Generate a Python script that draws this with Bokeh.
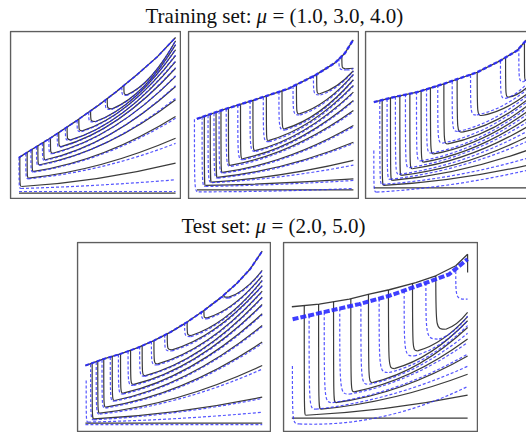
from bokeh.plotting import figure
from bokeh.layouts import column, row, Spacer
from bokeh.models import Range1d, ColumnDataSource
from bokeh.core.properties import value
from bokeh.embed import file_html
from bokeh.resources import INLINE

# ---------------- titles ----------------
TITLE_TRAIN = ["Training set:", "\u03bc", "= (1.0, 3.0, 4.0)"]
TITLE_TEST = ["Test set:", "\u03bc", "= (2.0, 5.0)"]

# ---------------- panel 1 : mu = 1.0 (training) ----------------
P1_ENV_X = [0.049, 0.118, 0.235, 0.392, 0.510, 0.627, 0.745, 0.863, 0.971]
P1_ENV_Y = [0.245, 0.289, 0.362, 0.468, 0.553, 0.643, 0.742, 0.848, 0.964]
P1_FLAT = [0.032]
P1_BFLAT = [0.042]
P1_SX = [0.055, 0.098, 0.127, 0.161, 0.196, 0.235, 0.284, 0.333, 0.402, 0.471, 0.569, 0.667]
P1_ST = [0.249, 0.276, 0.295, 0.316, 0.337, 0.362, 0.395, 0.428, 0.475, 0.525, 0.598, 0.677]
P1_KX = [0.065, 0.108, 0.137, 0.173, 0.206, 0.249, 0.298, 0.353, 0.422, 0.500, 0.598, 0.686]
P1_KY = [0.072, 0.122, 0.162, 0.202, 0.232, 0.271, 0.311, 0.351, 0.405, 0.461, 0.537, 0.621]
P1_MY = [0.121, 0.206, 0.277, 0.338, 0.386, 0.432, 0.475, 0.515, 0.563, 0.611, 0.671, 0.734]
P1_RY = [0.212, 0.361, 0.491, 0.591, 0.671, 0.731, 0.780, 0.820, 0.856, 0.890, 0.920, 0.944]
P1_B_SX = [0.050, 0.090, 0.120, 0.153, 0.188, 0.226, 0.275, 0.323, 0.392, 0.460, 0.558, 0.655]
P1_B_ST = [0.247, 0.271, 0.290, 0.311, 0.332, 0.356, 0.389, 0.421, 0.468, 0.517, 0.590, 0.668]
P1_B_KX = [0.062, 0.106, 0.135, 0.170, 0.204, 0.246, 0.296, 0.350, 0.418, 0.497, 0.595, 0.683]
P1_B_KY = [0.060, 0.118, 0.158, 0.198, 0.228, 0.268, 0.308, 0.348, 0.400, 0.458, 0.533, 0.617]
P1_B_MY = [0.080, 0.192, 0.271, 0.339, 0.385, 0.431, 0.475, 0.515, 0.561, 0.610, 0.669, 0.732]
P1_B_RY = [0.112, 0.330, 0.480, 0.600, 0.676, 0.735, 0.784, 0.825, 0.860, 0.893, 0.922, 0.946]

# ---------------- panel 2 : mu = 3.0 (training) ----------------
P2_ENV_X = [0.049, 0.191, 0.389, 0.586, 0.744, 0.862, 0.920, 0.969]
P2_ENV_Y = [0.477, 0.527, 0.591, 0.657, 0.737, 0.812, 0.870, 0.950]
P2_FLAT = [0.052]
P2_SX = [0.093, 0.128, 0.162, 0.191, 0.235, 0.306, 0.379, 0.458, 0.550, 0.635, 0.754, 0.902]
P2_ST = [0.492, 0.502, 0.515, 0.527, 0.541, 0.564, 0.588, 0.614, 0.645, 0.682, 0.743, 0.852]
P2_KX = [0.100, 0.136, 0.170, 0.200, 0.245, 0.318, 0.392, 0.470, 0.565, 0.652, 0.772, 0.925]
P2_KY = [0.078, 0.098, 0.126, 0.156, 0.198, 0.238, 0.287, 0.347, 0.417, 0.507, 0.627, 0.777]
P2_MY = [0.092, 0.144, 0.200, 0.254, 0.313, 0.360, 0.410, 0.463, 0.520, 0.590, 0.675, 0.778]
P2_RY = [0.117, 0.228, 0.337, 0.437, 0.527, 0.587, 0.637, 0.677, 0.711, 0.743, 0.765, 0.780]
P2_B_SX = [0.035, 0.080, 0.115, 0.150, 0.180, 0.222, 0.290, 0.362, 0.440, 0.532, 0.615, 0.735, 0.885]
P2_B_ST = [0.475, 0.490, 0.500, 0.512, 0.523, 0.538, 0.560, 0.585, 0.607, 0.640, 0.675, 0.738, 0.840]
P2_B_KX = [0.060, 0.100, 0.138, 0.172, 0.205, 0.250, 0.322, 0.396, 0.474, 0.568, 0.656, 0.776, 0.930]
P2_B_KY = [0.040, 0.072, 0.095, 0.122, 0.152, 0.192, 0.232, 0.282, 0.340, 0.410, 0.500, 0.620, 0.770]
P2_B_MY = [0.045, 0.085, 0.132, 0.195, 0.249, 0.307, 0.355, 0.405, 0.457, 0.514, 0.584, 0.670, 0.771]
P2_B_RY = [0.060, 0.108, 0.200, 0.330, 0.430, 0.520, 0.582, 0.632, 0.673, 0.708, 0.740, 0.762, 0.778]

# ---------------- panel 3 : mu = 4.0 (training) ----------------
P3_ENV_X = [0.049, 0.167, 0.304, 0.461, 0.657, 0.794, 0.892, 0.947]
P3_ENV_Y = [0.577, 0.607, 0.637, 0.687, 0.756, 0.826, 0.886, 0.950]
P3_FLAT = [0.064]
P3_SX = [0.098, 0.147, 0.202, 0.261, 0.327, 0.382, 0.461, 0.539, 0.657, 0.824, 0.935]
P3_ST = [0.589, 0.603, 0.615, 0.627, 0.643, 0.663, 0.687, 0.711, 0.756, 0.844, 0.936]
P3_KX = [0.108, 0.157, 0.210, 0.275, 0.343, 0.402, 0.484, 0.569, 0.686, 0.843, 0.943]
P3_KY = [0.078, 0.108, 0.138, 0.178, 0.218, 0.267, 0.327, 0.397, 0.497, 0.607, 0.707]
P3_MY = [0.120, 0.171, 0.218, 0.265, 0.309, 0.355, 0.405, 0.464, 0.541, 0.626, 0.707]
P3_RY = [0.198, 0.287, 0.367, 0.427, 0.477, 0.517, 0.551, 0.587, 0.623, 0.662, 0.707]
P3_B_SX = [0.049, 0.084, 0.127, 0.176, 0.235, 0.300, 0.359, 0.425, 0.510, 0.618, 0.794, 0.902]
P3_B_ST = [0.287, 0.585, 0.597, 0.610, 0.625, 0.640, 0.660, 0.680, 0.703, 0.740, 0.826, 0.900]
P3_B_KX = [0.065, 0.100, 0.145, 0.198, 0.258, 0.325, 0.388, 0.455, 0.545, 0.655, 0.825, 0.930]
P3_B_KY = [0.038, 0.085, 0.115, 0.145, 0.185, 0.225, 0.272, 0.332, 0.402, 0.500, 0.600, 0.700]
P3_B_MY = [0.084, 0.139, 0.194, 0.234, 0.280, 0.321, 0.365, 0.417, 0.476, 0.553, 0.630, 0.707]
P3_B_RY = [0.168, 0.240, 0.340, 0.400, 0.455, 0.500, 0.538, 0.575, 0.612, 0.650, 0.685, 0.720]

# ---------------- panel 4 : mu = 2.0 (test) ----------------
P4_ENV_X = [0.041, 0.136, 0.223, 0.309, 0.396, 0.482, 0.568, 0.655, 0.741, 0.827, 0.895, 0.957]
P4_ENV_Y = [0.349, 0.384, 0.411, 0.442, 0.481, 0.526, 0.579, 0.640, 0.707, 0.785, 0.860, 0.954]
P4_FLAT = [0.044]
P4_BFLAT = [0.036]
P4_SX = [0.076, 0.105, 0.136, 0.180, 0.223, 0.275, 0.335, 0.396, 0.465, 0.568, 0.655, 0.758]
P4_ST = [0.362, 0.372, 0.384, 0.397, 0.411, 0.429, 0.455, 0.481, 0.517, 0.579, 0.640, 0.721]
P4_KX = [0.085, 0.116, 0.147, 0.192, 0.237, 0.292, 0.352, 0.416, 0.490, 0.589, 0.672, 0.784]
P4_KY = [0.067, 0.097, 0.129, 0.164, 0.203, 0.249, 0.296, 0.358, 0.432, 0.508, 0.601, 0.711]
P4_MY = [0.107, 0.185, 0.249, 0.303, 0.350, 0.397, 0.441, 0.493, 0.551, 0.610, 0.679, 0.760]
P4_RY = [0.182, 0.349, 0.473, 0.561, 0.623, 0.672, 0.711, 0.743, 0.772, 0.799, 0.825, 0.852]
P4_B_SX = [0.045, 0.068, 0.097, 0.127, 0.170, 0.212, 0.262, 0.322, 0.383, 0.452, 0.555, 0.642, 0.748]
P4_B_ST = [0.270, 0.357, 0.368, 0.380, 0.395, 0.408, 0.425, 0.451, 0.478, 0.513, 0.575, 0.636, 0.715]
P4_B_KX = [0.055, 0.085, 0.115, 0.145, 0.190, 0.236, 0.290, 0.350, 0.414, 0.488, 0.588, 0.672, 0.784]
P4_B_KY = [0.050, 0.062, 0.092, 0.124, 0.160, 0.198, 0.244, 0.292, 0.352, 0.426, 0.502, 0.596, 0.706]
P4_B_MY = [0.068, 0.102, 0.175, 0.243, 0.298, 0.345, 0.392, 0.437, 0.488, 0.546, 0.605, 0.675, 0.756]
P4_B_RY = [0.102, 0.175, 0.330, 0.465, 0.555, 0.618, 0.668, 0.707, 0.740, 0.770, 0.797, 0.823, 0.850]

# ---------------- panel 5 : mu = 5.0 (test) ----------------
P5_ENV_X = [0.043, 0.184, 0.339, 0.442, 0.545, 0.682, 0.785, 0.888, 0.949]
P5_ENV_Y = [0.660, 0.674, 0.700, 0.727, 0.750, 0.788, 0.824, 0.877, 0.938]
P5_BENV_X = [0.047, 0.201, 0.390, 0.545, 0.717, 0.854, 0.949]
P5_BENV_Y = [0.594, 0.630, 0.674, 0.718, 0.780, 0.832, 0.912]
P5_FLAT = [0.071]
P5_SX = [0.107, 0.181, 0.258, 0.347, 0.438, 0.541, 0.665, 0.785, 0.949]
P5_ST = [0.665, 0.674, 0.686, 0.701, 0.726, 0.749, 0.783, 0.824, 0.938]
P5_KX = [0.115, 0.193, 0.270, 0.364, 0.459, 0.571, 0.691, 0.837, 0.949]
P5_KY = [0.086, 0.118, 0.153, 0.210, 0.259, 0.333, 0.427, 0.541, 0.841]
P5_MY = [0.123, 0.183, 0.239, 0.308, 0.361, 0.422, 0.490, 0.572, 0.841]
P5_RY = [0.192, 0.303, 0.400, 0.489, 0.550, 0.586, 0.608, 0.630, 0.841]
P5_B_SX = [0.046, 0.132, 0.210, 0.290, 0.399, 0.493, 0.622, 0.734, 0.888]
P5_B_ST = [0.347, 0.614, 0.632, 0.651, 0.677, 0.703, 0.745, 0.786, 0.850]
P5_B_KX = [0.081, 0.167, 0.253, 0.339, 0.442, 0.545, 0.674, 0.802, 0.949]
P5_B_KY = [0.040, 0.118, 0.153, 0.198, 0.250, 0.312, 0.400, 0.489, 0.700]
P5_B_MY = [0.080, 0.197, 0.243, 0.293, 0.345, 0.399, 0.465, 0.531, 0.700]
P5_B_RY = [0.238, 0.345, 0.410, 0.470, 0.520, 0.560, 0.585, 0.610, 0.700]

BLACK = "#262626"
BLUE = "#2a2aff"
BOX = "#5e5e5e"


def panel(fig_w, fig_h, box_w, box_h):
    p = figure(width=fig_w, height=fig_h, output_backend="svg", toolbar_location=None,
               x_range=Range1d(-1.0 / box_w, (fig_w - 1.0) / box_w),
               y_range=Range1d(-1.0 / box_h, (fig_h - 1.0) / box_h),
               x_axis_location=None, y_axis_location=None, min_border=0)
    p.grid.visible = False
    p.outline_line_color = None
    p.background_fill_color = "white"
    p.border_fill_color = "white"
    return p


def snapshots(p, sx, st, kx, ky, my, ry, rx, color, dash, width, alpha):
    n = len(sx)
    src = ColumnDataSource(dict(
        sx=sx, st=st, kx=kx, ky=ky, ry=ry, rx=[rx] * n,
        cx=[(a + rx) / 2.0 for a in kx],
        cy=[2.0 * m - (a + b) / 2.0 for m, a, b in zip(my, ky, ry)]))
    p.bezier(x0="sx", y0="st", x1="kx", y1="ky", cx0="sx", cy0="ky", cx1="sx", cy1="ky",
             source=src, line_color=color, line_dash=dash, line_width=width, line_alpha=alpha)
    p.quadratic(x0="kx", y0="ky", x1="rx", y1="ry", cx="cx", cy="cy",
                source=src, line_color=color, line_dash=dash, line_width=width, line_alpha=alpha)


def draw(p, env_x, env_y, flat, x0, rx, black, blue, benv=None, bflat=None,
         benv_w=2.2, benv_dash="4 2"):
    # black reference solutions
    p.line([x0, rx], [flat[0], flat[0]], line_color=BLACK, line_width=1.3, line_alpha=0.9)
    snapshots(p, *black, rx, BLACK, "solid", 1.2, 0.9)
    p.line(env_x, env_y, line_color=BLACK, line_width=1.3, line_alpha=0.9)
    # blue predictions
    if bflat is not None:
        p.line([x0, rx], [bflat[0], bflat[0]], line_color=BLUE, line_width=1.2,
               line_dash="3 2", line_alpha=0.8)
    snapshots(p, *blue, rx, BLUE, "3 2", 1.2, 0.8)
    bx, by = benv if benv is not None else (env_x, env_y)
    p.line(bx, by, line_color=BLUE, line_width=benv_w, line_dash=benv_dash, line_alpha=0.9)
    # frame box
    p.quad(left=[0], right=[1], bottom=[0], top=[1], fill_color=None,
           line_color=BOX, line_width=1.5)


p1 = panel(172, 169, 170, 167)
draw(p1, P1_ENV_X, P1_ENV_Y, P1_FLAT, 0.05, 0.971,
     (P1_SX, P1_ST, P1_KX, P1_KY, P1_MY, P1_RY),
     (P1_B_SX, P1_B_ST, P1_B_KX, P1_B_KY, P1_B_MY, P1_B_RY), bflat=P1_BFLAT, benv_w=1.6)

p2 = panel(172, 169, 170, 167)
draw(p2, P2_ENV_X, P2_ENV_Y, P2_FLAT, 0.05, 0.970,
     (P2_SX, P2_ST, P2_KX, P2_KY, P2_MY, P2_RY),
     (P2_B_SX, P2_B_ST, P2_B_KX, P2_B_KY, P2_B_MY, P2_B_RY), benv_w=2.4)

p3 = panel(162, 169, 170, 167)
draw(p3, P3_ENV_X, P3_ENV_Y, P3_FLAT, 0.049, 0.947,
     (P3_SX, P3_ST, P3_KX, P3_KY, P3_MY, P3_RY),
     (P3_B_SX, P3_B_ST, P3_B_KX, P3_B_KY, P3_B_MY, P3_B_RY), benv_w=2.4)

p4 = panel(195, 191, 193, 189)
draw(p4, P4_ENV_X, P4_ENV_Y, P4_FLAT, 0.041, 0.957,
     (P4_SX, P4_ST, P4_KX, P4_KY, P4_MY, P4_RY),
     (P4_B_SX, P4_B_ST, P4_B_KX, P4_B_KY, P4_B_MY, P4_B_RY), bflat=P4_BFLAT, benv_w=2.0)

p5 = panel(196, 191, 194, 189)
draw(p5, P5_ENV_X, P5_ENV_Y, P5_FLAT, 0.043, 0.949,
     (P5_SX, P5_ST, P5_KX, P5_KY, P5_MY, P5_RY),
     (P5_B_SX, P5_B_ST, P5_B_KX, P5_B_KY, P5_B_MY, P5_B_RY),
     benv=(P5_BENV_X, P5_BENV_Y), benv_w=4.0, benv_dash="6 2")


def title_fig(h, parts, x_mu, mid):
    t = figure(width=526, height=h, output_backend="svg", toolbar_location=None,
               x_range=Range1d(0, 526), y_range=Range1d(h, 0),
               x_axis_location=None, y_axis_location=None, min_border=0)
    t.grid.visible = False
    t.outline_line_color = None
    t.border_fill_color = "white"
    kw = dict(text_font=value("Liberation Serif"), text_font_size="21px",
              text_color="#111111", text_baseline="middle")
    t.text(x=[x_mu - 5], y=[mid], text=[parts[0]], text_align="right", **kw)
    t.text(x=[x_mu], y=[mid], text=[parts[1]], text_align="left",
           text_font_style="italic", **kw)
    t.text(x=[x_mu + 16], y=[mid], text=[parts[2]], text_align="left", **kw)
    return t


t1 = title_fig(30, TITLE_TRAIN, 256, 15)
t2 = title_fig(42, TITLE_TEST, 255, 26)

row1 = row(Spacer(width=9, height=169), p1, Spacer(width=6, height=169), p2,
           Spacer(width=5, height=169), p3)
row2 = row(Spacer(width=76, height=191), p4, Spacer(width=11, height=191), p5)
layout = column(t1, row1, t2, row2)

open("out.html", "w").write(file_html(layout, INLINE))
